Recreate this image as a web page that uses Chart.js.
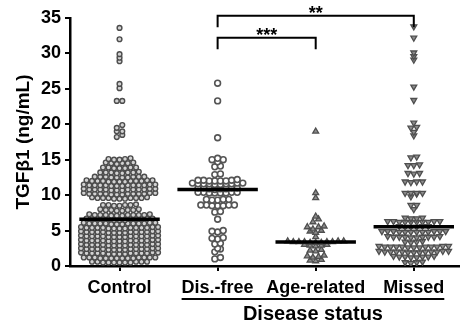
<!DOCTYPE html>
<html><head><meta charset="utf-8">
<script src="https://cdn.jsdelivr.net/npm/chart.js@4/dist/chart.umd.min.js"></script>
<style>html,body{margin:0;padding:0;background:#fff}canvas{display:block}</style>
</head><body>
<canvas id="c" width="465" height="327"></canvas>
<script>
const categories = ['Control', 'Dis.-free', 'Age-related', 'Missed'];
const control = [
 33.6, 32.0, 29.9, 29.4, 28.9, 25.7, 25.1, 23.3, 23.3,
 19.9, 19.5, 19.0, 19.0, 18.5, 18.2,
 15.1, 15.2, 15.0, 15.1, 15.0,
 14.5, 14.6, 14.4, 14.5, 14.5, 14.6,
 13.9, 13.8, 13.9, 13.8, 13.9, 13.8, 13.9,
 13.2, 13.1, 13.2, 13.3, 13.2, 13.1, 13.2, 13.2,
 12.6, 12.5, 12.6, 12.5, 12.6, 12.5, 12.6, 12.5, 12.6, 12.6,
 12.0, 11.9, 12.0, 12.1, 11.9, 12.0, 12.0, 11.9, 12.1, 12.0, 11.9, 12.0, 12.1,
 11.4, 11.3, 11.4, 11.5, 11.4, 11.3, 11.4, 11.5, 11.4, 11.3, 11.4, 11.5, 11.4, 11.4,
 10.8, 10.7, 10.8, 10.9, 10.8, 10.7, 10.8, 10.9, 10.8, 10.7, 10.8, 10.9, 10.8, 10.8,
 10.2, 10.1, 10.2, 10.3, 10.2, 10.1, 10.2, 10.3, 10.2, 10.1, 10.2, 10.3, 10.2, 10.2,
 9.6, 9.5, 9.6, 9.7, 9.6, 9.5, 9.6, 9.7, 9.6, 9.5, 9.6,
 8.6, 8.5, 8.6, 8.7, 8.6, 8.5, 8.6,
 7.9, 7.8, 7.9, 8.0, 7.9, 7.8, 7.9, 8.0,
 7.2, 7.1, 7.2, 7.3, 7.2, 7.1, 7.2, 7.3, 7.2, 7.1, 7.2, 7.2,
 6.6, 6.5, 6.6, 6.7, 6.6, 6.5, 6.6, 6.7, 6.6, 6.5, 6.6, 6.7, 6.6,
 6.0, 5.9, 6.0, 6.1, 6.0, 5.9, 6.0, 6.1, 6.0, 5.9, 6.0, 6.1, 6.0, 6.0,
 5.4, 5.3, 5.4, 5.5, 5.4, 5.3, 5.4, 5.5, 5.4, 5.3, 5.4, 5.5, 5.4, 5.3, 5.4,
 4.8, 4.7, 4.8, 4.9, 4.8, 4.7, 4.8, 4.9, 4.8, 4.7, 4.8, 4.9, 4.8, 4.7, 4.8,
 4.2, 4.1, 4.2, 4.3, 4.2, 4.1, 4.2, 4.3, 4.2, 4.1, 4.2, 4.3, 4.2, 4.1, 4.2,
 3.6, 3.5, 3.6, 3.7, 3.6, 3.5, 3.6, 3.7, 3.6, 3.5, 3.6, 3.7, 3.6, 3.5, 3.6,
 3.0, 2.9, 3.0, 3.1, 3.0, 2.9, 3.0, 3.1, 3.0, 2.9, 3.0, 3.1, 3.0, 2.9, 3.0,
 2.4, 2.3, 2.4, 2.5, 2.4, 2.3, 2.4, 2.5, 2.4, 2.3, 2.4, 2.5, 2.4, 2.3, 2.4,
 1.8, 1.7, 1.8, 1.9, 1.8, 1.7, 1.8, 1.9, 1.8, 1.7, 1.8, 1.9, 1.8, 1.7, 1.8,
 1.1, 1.2, 1.1, 1.2, 1.1, 1.2, 1.1, 1.2, 1.1, 1.2, 1.1, 1.2, 1.1, 1.2,
 0.5, 0.6, 0.5, 0.6, 0.5, 0.6, 0.5, 0.6, 0.5, 0.6, 0.5
];
const disFree = [
 25.8, 23.3, 18.1,
 15.2, 15.0, 15.0, 14.7,
 14.0, 14.1,
 13.0, 12.9,
 12.1, 12.0, 12.1, 12.0, 12.2, 12.0, 12.1, 12.0,
 11.6, 11.7, 11.5, 11.6, 11.7, 11.6, 11.5, 11.6, 11.7, 11.6,
 11.0, 10.9, 11.0, 10.9, 11.0, 10.8, 11.0, 10.9,
 10.4, 10.3, 10.4, 10.3, 10.4, 10.3, 10.4, 10.3,
 9.4, 9.3, 9.4, 9.3, 9.4,
 8.6, 8.5, 8.6, 8.5, 8.6, 8.5, 8.6,
 7.7, 7.6,
 6.6,
 5.0, 4.9, 4.8,
 3.9, 4.0, 3.8,
 3.2, 3.1,
 2.5, 2.4, 2.0,
 1.2, 1.0
];
const ageRelated = [
 19.0, 10.3, 9.6, 7.0, 6.6, 6.2,
 5.6, 5.5, 5.5, 5.2, 5.0, 4.9, 4.7,
 4.1,
 3.5, 3.4, 3.4, 3.3, 3.4, 3.5, 3.3, 3.4, 3.4, 3.3, 3.5,
 3.0, 2.9, 3.0, 2.9, 2.8,
 2.3, 2.2, 2.1,
 1.5, 1.4, 1.3, 1.2,
 0.9, 0.8, 0.7
];
const missed = [
 33.8, 32.2, 30.1, 29.6, 29.1, 25.3, 23.4, 20.2, 19.6, 19.5, 18.9, 18.4,
 15.4, 15.3,
 14.3, 14.2, 14.2,
 13.1, 13.1, 13.0,
 11.9, 11.9, 11.8, 11.9,
 10.3, 10.3, 10.2, 10.3, 10.3,
 9.8,
 8.6, 8.6,
 8.0,
 6.8, 6.7, 6.7, 6.8,
 6.3, 6.2, 6.2, 6.3, 6.2, 6.3, 6.2, 6.2, 6.3, 6.2,
 5.6, 5.5, 5.6, 5.5, 5.6, 5.5,
 4.9, 4.8, 4.9, 4.8, 4.9, 4.8, 4.9, 4.8, 4.9, 4.8, 4.9, 4.8,
 4.1, 4.0, 4.1, 4.2, 4.1, 4.0, 4.1, 4.2, 4.1, 4.1,
 3.4, 3.5, 3.4, 3.3,
 2.7, 2.6, 2.7, 2.8, 2.7, 2.6, 2.7, 2.8, 2.7, 2.6, 2.7, 2.8, 2.7,
 2.0, 1.9, 2.0, 2.1, 2.0, 1.9, 2.0, 2.1, 2.0, 1.9, 2.0, 2.1, 2.0,
 1.3, 1.2, 1.3, 1.4, 1.3, 1.2, 1.3, 1.4,
 0.5, 0.6, 0.5, 0.4
];
const medians = [6.6, 10.8, 3.4, 5.55];
const yTicks = [0, 5, 10, 15, 20, 25, 30, 35];
const brackets = [
  { from: 1, to: 2, y: 32.2, foot: 30.6, label: '***' },
  { from: 1, to: 3, y: 35.3, foot: 33.7, label: '**' }
];
const xTitle = 'Disease status';
const yTitle = 'TGF\u03B21 (ng/mL)';

const FONT = "'Liberation Sans', Arial, Helvetica, sans-serif";
Chart.defaults.font.family = FONT;
Chart.defaults.color = '#000';

const groups = [control, disFree, ageRelated, missed];
const styles = [
  { ps: 'circle',   r: 2.4, bg: '#d2d2d2', bc: '#4d4d4d', rot: 0,   bw: 1.4 },
  { ps: 'circle',   r: 2.9, bg: '#ffffff', bc: '#555555', rot: 0,   bw: 1.6 },
  { ps: 'triangle', r: 3.4, bg: '#8c8c8c', bc: '#4f4f4f', rot: 0,   bw: 1.3 },
  { ps: 'triangle', r: 3.4, bg: '#8c8c8c', bc: '#4f4f4f', rot: 180, bw: 1.3 }
];
const spacing = [5.5, 5.6, 5.6, 5.8];
const rowGap = 3.2;

const pointSets = groups.map((vals, i) => ({
  type: 'scatter', label: categories[i],
  data: vals.map(v => ({ x: i, y: v })),
  pointStyle: styles[i].ps, pointRadius: styles[i].r, pointRotation: styles[i].rot,
  pointBackgroundColor: styles[i].bg, pointBorderColor: styles[i].bc,
  pointBorderWidth: styles[i].bw, showLine: false, order: 3
}));
const medianSets = medians.map((m, i) => ({
  type: 'line', data: [{ x: i - 0.41, y: m }, { x: i + 0.41, y: m }],
  borderColor: '#000', borderWidth: 3.5, pointRadius: 0, fill: false,
  borderCapStyle: 'butt', order: 1
}));
const bracketSets = brackets.map(b => ({
  type: 'line',
  data: [{ x: b.from, y: b.foot }, { x: b.from, y: b.y }, { x: b.to, y: b.y }, { x: b.to, y: b.foot }],
  borderColor: '#000', borderWidth: 2, pointRadius: 0, fill: false, tension: 0,
  clip: false, order: 0, borderJoinStyle: 'miter'
}));

const annot = {
  id: 'annot',
  afterDraw(chart) {
    const { ctx, scales: { x, y } } = chart;
    ctx.save();
    ctx.fillStyle = '#000';
    ctx.textAlign = 'center';
    ctx.textBaseline = 'alphabetic';
    ctx.font = `bold 18px ${FONT}`;
    brackets.forEach(b => {
      const px = (x.getPixelForValue(b.from) + x.getPixelForValue(b.to)) / 2;
      ctx.fillText(b.label, px, y.getPixelForValue(b.y) + 3);
    });
    const l = x.getPixelForValue(1) - ctx.measureText(categories[1]).width / 2;
    const r = x.getPixelForValue(3) + ctx.measureText(categories[3]).width / 2;
    ctx.fillRect(l, x.top + 32, r - l, 2);
    ctx.font = `bold 20px ${FONT}`;
    ctx.fillText(xTitle, (l + r) / 2, x.top + 54);
    ctx.restore();
  }
};

const chart = new Chart(document.getElementById('c'), {
  type: 'scatter',
  data: { datasets: [...bracketSets, ...medianSets, ...pointSets] },
  options: {
    responsive: false, animation: false, devicePixelRatio: 1,
    layout: { padding: { left: 0, right: 2, top: 18, bottom: 0 } },
    plugins: { legend: { display: false }, tooltip: { enabled: false } },
    scales: {
      x: {
        type: 'linear', min: -0.505, max: 3.465,
        afterBuildTicks: s => { s.ticks = categories.map((c, i) => ({ value: i })); },
        afterFit: s => { s.height = 61; },
        ticks: {
          autoSkip: false, maxRotation: 0, padding: 6,
          font: { size: 18, weight: 'bold' }, color: '#000',
          callback: v => categories[v]
        },
        grid: { display: true, drawOnChartArea: false, drawTicks: true, tickLength: 5, color: '#000', lineWidth: 2 },
        border: { display: true, color: '#000', width: 2.5 }
      },
      y: {
        type: 'linear', min: 0, max: 35,
        afterBuildTicks: s => { s.ticks = yTicks.map(v => ({ value: v })); },
        afterFit: s => { s.width = 70; },
        ticks: { padding: 4, font: { size: 18, weight: 'bold' }, color: '#000' },
        grid: { display: true, drawOnChartArea: false, drawTicks: true, tickLength: 5, color: '#000', lineWidth: 2 },
        border: { display: true, color: '#000', width: 2.5 },
        title: { display: true, text: yTitle, font: { size: 19, weight: 'bold' }, color: '#000', padding: { top: 12, bottom: 0 } }
      }
    }
  },
  plugins: [annot]
});

// Prism-style row layout: values close in height share a row, spread horizontally around the category.
function rows(vals, cat, step) {
  const xs = chart.scales.x, ys = chart.scales.y;
  const unit = xs.getPixelForValue(1) - xs.getPixelForValue(0);
  const pts = vals.map(v => ({ v, py: ys.getPixelForValue(v) })).sort((a, b) => a.v - b.v);
  const groupsOut = [];
  let cur = null;
  for (const p of pts) {
    if (!cur || Math.abs(p.py - cur.start) > rowGap) { cur = { start: p.py, items: [] }; groupsOut.push(cur); }
    cur.items.push(p);
  }
  const out = [];
  groupsOut.forEach(r => {
    const n = r.items.length;
    const slots = [...Array(n).keys()].map(k => (k - (n - 1) / 2) * step)
      .sort((a, b) => (Math.abs(a) - Math.abs(b)) || (a - b));
    r.items.forEach((p, k) => out.push({ x: cat + slots[k] / unit, y: p.v }));
  });
  return out;
}
const offset = bracketSets.length + medianSets.length;
groups.forEach((vals, i) => { chart.data.datasets[offset + i].data = rows(vals, i, spacing[i]); });
chart.update('none');
</script>
</body></html>
